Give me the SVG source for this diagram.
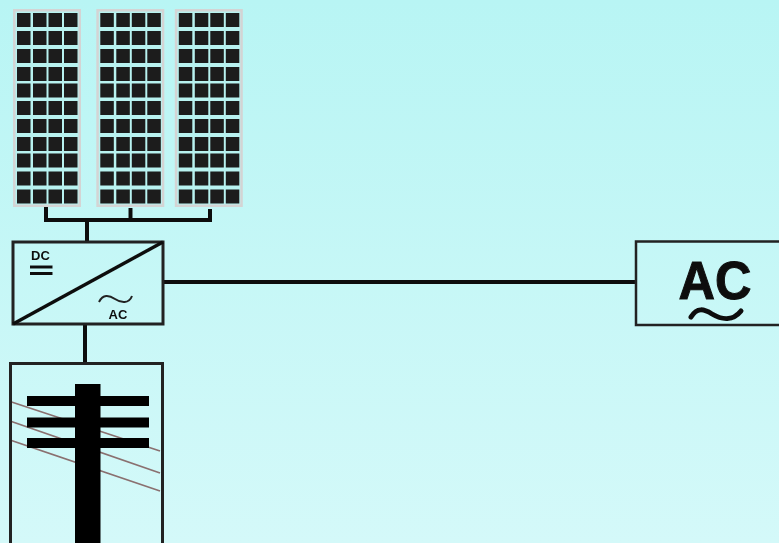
<svg xmlns="http://www.w3.org/2000/svg" width="779" height="543" viewBox="0 0 779 543">
<style>
.line{fill:none;stroke:#111;stroke-width:4}
.box{fill:none;stroke:#222;stroke-width:3}
.cell{fill:#1a1a1a}
.panel{fill:#d4d4d4}
.wire{fill:none;stroke:#8a7070;stroke-width:1.7}
.solid{fill:#000}
.t{font-family:"Liberation Sans",Arial,sans-serif;font-weight:bold;fill:#111;text-anchor:middle}
</style>
<defs>
<linearGradient id="bg" x1="0" y1="0" x2="0" y2="1"><stop offset="0" stop-color="#b8f5f4"/><stop offset="1" stop-color="#d4f9f9"/></linearGradient>
<filter id="soft" x="-2%" y="-2%" width="104%" height="104%"><feGaussianBlur stdDeviation="0.55"/></filter>
<g id="row"><rect class="cell" x="17" y="0" width="13.500" height="14"/><rect class="cell" x="33" y="0" width="13.500" height="14"/><rect class="cell" x="48.500" y="0" width="13.500" height="14"/><rect class="cell" x="64" y="0" width="13.500" height="14"/></g>
<g id="pv">
<rect x="13" y="9" width="68" height="198" class="panel"/>
<rect x="15.500" y="11.500" width="63" height="193" fill="#b8f2f0"/>
<use href="#row" y="13"/><use href="#row" y="31"/><use href="#row" y="49"/><use href="#row" y="67"/><use href="#row" y="83.500"/><use href="#row" y="101"/><use href="#row" y="119"/><use href="#row" y="137"/><use href="#row" y="153.500"/><use href="#row" y="171.500"/><use href="#row" y="189.500"/>
</g>
</defs>
<rect width="779" height="543" fill="url(#bg)"/>
<g filter="url(#soft)">
<g id="panel-1"><use href="#pv"/></g>
<g id="panel-2"><use href="#pv" x="83.300"/></g>
<g id="panel-3"><use href="#pv" x="161.800"/></g>
<g id="connectors">
<path class="line" d="M46 207V220H210V209M130.500 208V220M87 220V242"/>
<path class="line" d="M85 324V363"/>
<path class="line" d="M163 282H636"/>
</g>
<g id="inverter">
<rect class="box" x="13" y="242" width="150" height="82"/>
<path d="M13 324L163 242" fill="none" stroke="#111" stroke-width="3.500"/>
<text class="t" x="40.500" y="259.500" font-size="13">DC</text>
<path d="M30 267H52.500M30 273.500H52.500" fill="none" stroke="#111" stroke-width="3"/>
<path d="M99 302C103 294 109 295 115 299C121 303 129 304 132 296" fill="none" stroke="#222" stroke-width="2"/>
<text class="t" x="118" y="318.500" font-size="13">AC</text>
</g>
<g id="grid">
<path class="wire" d="M10 401.500L160 451M10 421L160 473M10 440L160 491"/>
<rect class="solid" x="75" y="384" width="25.500" height="159"/>
<rect class="solid" x="27" y="396" width="122" height="10"/>
<rect class="solid" x="27" y="417.500" width="122" height="10"/>
<rect class="solid" x="27" y="438" width="122" height="10"/>
<path class="box" d="M10.500 543V363.500H162.500V543"/>
</g>
<g id="ac-load">
<path class="box" d="M779 241.500H636V325H779" style="stroke-width:2.500"/>
<text class="t" x="715" y="298.500" font-size="53" textLength="73" lengthAdjust="spacingAndGlyphs" stroke="#111" stroke-width="1">AC</text>
<path d="M691 317C697 307 704 309 712 314C722 320 733 321 741 311" fill="none" stroke="#111" stroke-width="5" stroke-linecap="round"/>
</g>
</g>
</svg>
